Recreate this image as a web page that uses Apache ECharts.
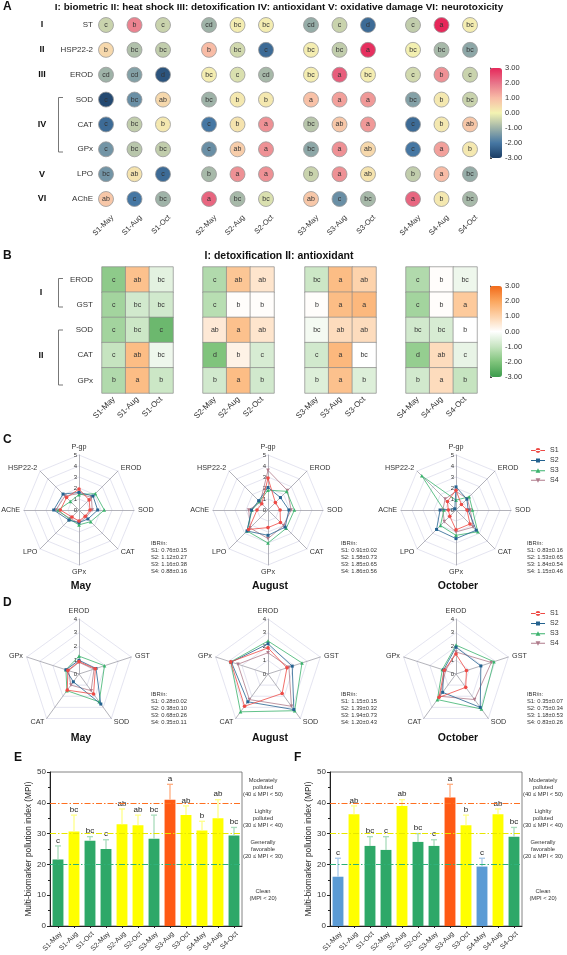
<!DOCTYPE html>
<html><head><meta charset="utf-8">
<script src="https://cdn.jsdelivr.net/npm/echarts@6/dist/echarts.min.js"></script>
<style>html,body{margin:0;padding:0;background:#fff}#c{width:567px;height:955px}</style>
</head><body><div id="c"></div>
<script>
const FONT = '"Liberation Sans", Arial, sans-serif';
// ---------- shared ----------
const sites = ['S1','S2','S3','S4'];
const months = ['May','Aug','Oct'];
// ---------- Panel A (z-scores, letters) columns: S1 May/Aug/Oct, S2..., S3..., S4...
const aRows = ['ST','HSP22-2','EROD','SOD','CAT','GPx','LPO','AChE'];
const aRoman = ['I','II','III','','IV','','V','VI'];
const aST   = [-0.5, 1.8, -0.5, -1.0, 0.1, 0.1, -1.1, -0.5, -2.2, -0.6, 3.0, 0.1];
const aHSP  = [0.5, -0.8, -0.6, 1.0, -0.4, -2.2, 0.1, -0.6, 2.9, 0.05, -0.9, -1.2];
const aEROD = [-1.0, -1.3, -2.6, 0.1, -0.3, -0.9, 0.1, 2.3, 0.1, -0.4, 1.6, -0.5];
const aSOD  = [-2.8, -1.6, 0.5, -1.0, 0.2, 0.2, 0.9, 1.4, 1.5, -1.3, 0.2, -0.5];
const aCAT  = [-2.2, -0.6, 0.2, -2.0, 0.3, 1.6, -0.7, 0.8, 1.5, -2.2, 0.2, 0.8];
const aGPx  = [-1.5, -0.7, -0.6, -1.6, 0.7, 1.6, -1.2, 1.6, 0.5, -2.0, 1.4, 0.2];
const aLPO  = [-1.5, 0.3, -2.2, -0.9, 1.6, 1.6, -0.5, 1.6, 0.3, -0.6, 1.0, -1.1];
const aAChE = [0.8, -2.0, -1.0, 2.2, -0.9, -0.3, 0.8, -1.6, -0.9, 2.2, 0.2, -0.9];
const lST   = ['c','b','c','cd','bc','bc','cd','c','d','c','a','bc'];
const lHSP  = ['b','bc','bc','b','bc','c','bc','bc','a','bc','bc','bc'];
const lEROD = ['cd','cd','d','bc','c','cd','bc','a','bc','c','b','c'];
const lSOD  = ['c','bc','ab','bc','b','b','a','a','a','bc','b','bc'];
const lCAT  = ['c','bc','b','c','b','a','bc','ab','a','c','b','ab'];
const lGPx  = ['c','bc','bc','c','ab','a','bc','a','ab','c','a','b'];
const lLPO  = ['bc','ab','c','b','a','a','b','a','ab','b','a','bc'];
const lAChE = ['ab','c','bc','a','bc','bc','ab','c','bc','a','b','bc'];
const aValueRows = [aST, aHSP, aEROD, aSOD, aCAT, aGPx, aLPO, aAChE];
const aLetterRows = [lST, lHSP, lEROD, lSOD, lCAT, lGPx, lLPO, lAChE];
// ---------- Panel B ----------
const bRows = ['EROD','GST','SOD','CAT','GPx'];
const bEROD = [-1.8, 1.4, -0.5, -1.3, 1.3, 0.6, -0.9, 1.5, 1.0, -1.3, 0.05, -0.3];
const bGST  = [-1.5, -0.8, -0.8, -1.2, 0.05, 0.05, 0.05, 1.5, 1.6, -1.5, 0.05, 1.2];
const bSOD  = [-1.5, -0.9, -2.3, 0.5, 1.4, 0.6, -0.2, 0.8, 0.8, -0.8, -0.7, 0.0];
const bCAT  = [-1.0, 1.5, -0.3, -2.0, 0.3, -0.7, -0.8, 1.6, 0.0, -1.7, 0.8, -0.4];
const bGPx  = [-1.3, 1.5, -0.9, -0.8, 1.5, -0.8, -0.6, 1.4, -0.6, -0.8, 0.8, -1.0];
const lbEROD = ['c','ab','bc','c','ab','ab','bc','a','ab','c','b','bc'];
const lbGST  = ['c','bc','bc','c','b','b','b','a','a','c','b','a'];
const lbSOD  = ['c','bc','c','ab','a','ab','bc','ab','ab','bc','bc','b'];
const lbCAT  = ['c','ab','bc','d','b','c','c','a','bc','d','ab','c'];
const lbGPx  = ['b','a','b','b','a','b','b','a','b','b','a','b'];
const bValueRows = [bEROD, bGST, bSOD, bCAT, bGPx];
const bLetterRows = [lbEROD, lbGST, lbSOD, lbCAT, lbGPx];
// ---------- Panel C (clockwise from top) ----------
const cAxes = ['P-gp','EROD','SOD','CAT','GPx','LPO','AChE','HSP22-2'];
const cMayS1 = [1.9, 1.3, 1.0, 0.8, 1.0, 0.9, 1.7, 1.6];
const cMayS2 = [1.6, 1.8, 1.7, 1.15, 1.15, 1.3, 2.3, 2.05];
const cMayS3 = [1.4, 2.1, 2.3, 1.5, 1.35, 1.2, 1.9, 1.1];
const cMayS4 = [1.5, 1.6, 1.2, 0.9, 1.2, 1.1, 2.1, 1.8];
const cAugS1 = [2.9, 0.95, 1.1, 1.6, 1.6, 2.5, 1.0, 0.8];
const cAugS2 = [2.05, 1.6, 1.9, 2.2, 2.3, 2.7, 1.5, 1.2];
const cAugS3 = [1.8, 2.4, 2.4, 2.35, 3.0, 2.7, 1.45, 1.1];
const cAugS4 = [3.6, 2.5, 2.1, 2.0, 2.6, 2.3, 1.75, 1.0];
const cOctS1 = [1.8, 0.7, 1.0, 1.8, 1.8, 0.8, 0.7, 1.1];
const cOctS2 = [2.1, 1.4, 1.1, 2.6, 2.6, 2.5, 1.45, 0.15];
const cOctS3 = [0.9, 1.7, 1.5, 2.8, 2.3, 2.0, 1.1, 4.4];
const cOctS4 = [1.7, 1.45, 1.3, 2.2, 2.0, 1.5, 1.2, 1.4];
const cIBR_May = ['0.76±0.15','1.12±0.27','1.16±0.38','0.88±0.16'];
const cIBR_Aug = ['0.91±0.02','1.58±0.73','1.85±0.65','1.86±0.56'];
const cIBR_Oct = ['0.83±0.16','1.53±0.65','1.84±0.54','1.15±0.46'];
// ---------- Panel D (clockwise from top) ----------
const dAxes = ['EROD','GST','SOD','CAT','GPx'];
const dMayS1 = [0.9, 1.25, 1.8, 1.45, 0.85];
const dMayS2 = [1.0, 1.3, 2.7, 0.7, 1.0];
const dMayS3 = [1.3, 1.95, 2.5, 1.5, 1.0];
const dMayS4 = [0.85, 1.15, 1.5, 1.0, 0.8];
const dAugS1 = [1.9, 1.45, 1.75, 2.9, 2.85];
const dAugS2 = [2.2, 1.85, 3.2, 2.5, 2.8];
const dAugS3 = [2.4, 2.6, 3.3, 3.4, 2.85];
const dAugS4 = [1.55, 1.6, 2.9, 2.3, 2.3];
const dOctS1 = [1.45, 0.8, 1.2, 2.1, 0.9];
const dOctS2 = [1.95, 1.9, 3.0, 1.65, 0.95];
const dOctS3 = [2.1, 2.9, 3.15, 2.3, 1.05];
const dOctS4 = [1.6, 2.7, 2.3, 2.0, 0.8];
const dIBR_May = ['0.28±0.02','0.38±0.10','0.68±0.26','0.35±0.11'];
const dIBR_Aug = ['1.15±0.15','1.39±0.32','1.94±0.73','1.20±0.43'];
const dIBR_Oct = ['0.35±0.07','0.75±0.34','1.18±0.53','0.83±0.26'];
const monthTitles = ['May','August','October'];
// ---------- Panels E, F ----------
const mpiCats = ['S1-May','S1-Aug','S1-Oct','S2-May','S2-Aug','S2-Oct','S3-May','S3-Aug','S3-Oct','S4-May','S4-Aug','S4-Oct'];
const eMPI = [21.6, 30.7, 27.7, 25.0, 33.0, 32.7, 28.3, 41.0, 36.0, 31.0, 35.0, 29.4];
const eSD  = [4.4, 5.3, 1.3, 3.0, 5.0, 3.3, 7.7, 5.0, 3.0, 3.0, 6.0, 2.6];
const eLet = ['c','bc','bc','c','ab','ab','bc','a','ab','b','ab','bc'];
const fMPI = [16.0, 36.3, 26.0, 24.7, 39.0, 27.3, 26.0, 41.7, 32.7, 19.3, 36.3, 29.0];
const fSD  = [6.0, 2.7, 3.0, 4.3, 2.0, 2.7, 2.0, 4.3, 3.3, 2.7, 1.7, 3.0];
const fLet = ['c','ab','bc','c','ab','bc','c','a','b','c','ab','bc'];
const mpiThresholds = [20, 30, 40];
const mpiBands = [
  [40, 50, 'Moderately\npolluted\n(40 ≤ MPI < 50)'],
  [30, 40, 'Lighlty\npolluted\n(30 ≤ MPI < 40)'],
  [20, 30, 'Generally\nfavorable\n(20 ≤ MPI < 30)'],
  [0, 20, 'Clean\n(MPI < 20)']
];

// ================= build =================
const TXT = '#333';
const grids = [], xAxes = [], yAxes = [], series = [];
const addGrid = g => { grids.push(g); return grids.length - 1; };

// ---- Panel A
const aLeft = [106, 209, 311, 413];
const aSeriesIdx = [];
sites.forEach((s, si) => {
  const gi = addGrid({left: aLeft[si], top: 25, width: 57, height: 174});
  xAxes.push({type:'category', gridIndex: gi, data: months.map(m => s + '-' + m), boundaryGap:false,
    axisLine:{show:false}, axisTick:{show:false}, splitLine:{show:false},
    axisLabel:{rotate:45, fontSize:7.5, color:TXT, margin:11, verticalAlign:'top', lineHeight:18, interval:0}});
  const xi = xAxes.length - 1;
  yAxes.push({type:'category', gridIndex: gi, data: aRows, inverse:true, boundaryGap:false,
    axisLine:{show:false}, axisTick:{show:false}, splitLine:{show:false},
    axisLabel:{show: si === 0, fontSize:8, color:TXT, margin:13, interval:0}});
  const yi = yAxes.length - 1;
  if (si === 0) {
    yAxes.push({type:'category', gridIndex: gi, data: aRows, inverse:true, boundaryGap:false, position:'left',
      axisLine:{show:false}, axisTick:{show:false}, splitLine:{show:false},
      axisLabel:{fontSize:9, fontWeight:'bold', color:'#111', margin:64, align:'center', interval:0,
        formatter:(v, i) => aRoman[i]}});
  }
  const data = [];
  aValueRows.forEach((row, r) => { for (let c = 0; c < 3; c++) data.push([c, r, row[si*3 + c]]); });
  aSeriesIdx.push(series.length);
  series.push({type:'scatter', xAxisIndex: xi, yAxisIndex: yi, symbolSize: 15, z: 5,
    itemStyle:{borderColor:'#9a9a9a', borderWidth:0.8, opacity:1},
    label:{show:true, position:'inside', fontSize:7, color:TXT, formatter: p => aLetterRows[p.value[1]][si*3 + p.value[0]]},
    data});
});
// A colorbar axis
{
  const gi = addGrid({left:490, top:68, width:12, height:90});
  xAxes.push({type:'value', gridIndex: gi, show:false});
  yAxes.push({type:'value', gridIndex: gi, min:-3, max:3, interval:1, position:'right',
    axisLine:{show:true, lineStyle:{color:'#444', width:0.8}}, axisTick:{show:true, length:2, lineStyle:{color:'#444'}},
    splitLine:{show:false}, axisLabel:{fontSize:7.5, color:TXT, margin:3, formatter: v => v.toFixed(2)}});
}
// ---- Panel B
const bLeft = [102, 203, 305, 406];
const bSeriesIdx = [];
sites.forEach((s, si) => {
  const gi = addGrid({left: bLeft[si], top: 267, width: 71, height: 126});
  xAxes.push({type:'category', gridIndex: gi, data: months.map(m => s + '-' + m),
    axisLine:{show:false}, axisTick:{show:false}, splitLine:{show:false},
    axisLabel:{rotate:45, fontSize:8, color:TXT, margin:5, interval:0}});
  const xi = xAxes.length - 1;
  yAxes.push({type:'category', gridIndex: gi, data: bRows, inverse:true,
    axisLine:{show:false}, axisTick:{show:false}, splitLine:{show:false},
    axisLabel:{show: si === 0, fontSize:8, color:TXT, margin:9, interval:0}});
  const yi = yAxes.length - 1;
  const data = [];
  bValueRows.forEach((row, r) => { for (let c = 0; c < 3; c++) data.push([c, r, row[si*3 + c]]); });
  bSeriesIdx.push(series.length);
  series.push({type:'heatmap', xAxisIndex: xi, yAxisIndex: yi,
    itemStyle:{borderColor:'#8a8a8a', borderWidth:0.7},
    label:{show:true, fontSize:7, color:TXT, formatter: p => bLetterRows[p.value[1]][si*3 + p.value[0]]},
    emphasis:{disabled:true}, data});
});
{
  const gi = addGrid({left:490, top:286, width:12, height:91});
  xAxes.push({type:'value', gridIndex: gi, show:false});
  yAxes.push({type:'value', gridIndex: gi, min:-3, max:3, interval:1, position:'right',
    axisLine:{show:true, lineStyle:{color:'#444', width:0.8}}, axisTick:{show:true, length:2, lineStyle:{color:'#444'}},
    splitLine:{show:false}, axisLabel:{fontSize:7.5, color:TXT, margin:3, formatter: v => v.toFixed(2)}});
}

// ---- Radars C, D
const siteColors = ['#ee4a45', '#24628f', '#3bb36d', '#b07c8c'];
const siteSymbols = ['circle', 'rect', 'triangle', 'path://M0,0L10,0L5,9Z'];
const legendIcons = [
  'path://M0,4.5h14v1h-14z M7,2.6a2.4,2.4 0 1,0 0.01,0z',
  'path://M0,4.5h14v1h-14z M5,3h4v4h-4z',
  'path://M0,4.5h14v1h-14z M7,2.5l2.4,4.3h-4.8z',
  'path://M0,4.5h14v1h-14z M4.6,3h4.8l-2.4,4.3z'
];
const radars = [];
const cCW2CCW = [0,7,6,5,4,3,2,1];
const dCW2CCW = [0,4,3,2,1];
const radarCenters = [79, 268, 456];
function makeRadar(axes, order, max, cx, cy, r) {
  return {center:[cx, cy], radius: r, shape:'polygon', startAngle: 90, splitNumber: max,
    axisName:{color:TXT, fontSize:7.2, fontFamily: FONT}, nameGap: 4,
    splitLine:{lineStyle:{color:'#d9d9ea', width:0.7}}, splitArea:{show:false},
    axisLine:{lineStyle:{color:'#a0a0a8', width:0.8}},
    axisLabel:{show:false, fontSize:6, color:TXT},
    indicator: order.map((k, i) => {
      const ind = {name: axes[k], min: 0, max: max};
      if (i === 0) ind.axisLabel = {show:true, fontSize:6, color:TXT, margin:2};
      return ind;
    })};
}
const cData = [[cMayS1,cMayS2,cMayS3,cMayS4],[cAugS1,cAugS2,cAugS3,cAugS4],[cOctS1,cOctS2,cOctS3,cOctS4]];
const dData = [[dMayS1,dMayS2,dMayS3,dMayS4],[dAugS1,dAugS2,dAugS3,dAugS4],[dOctS1,dOctS2,dOctS3,dOctS4]];
radarCenters.forEach(cx => radars.push(makeRadar(cAxes, cCW2CCW, 5, cx, 510, 55)));
radarCenters.forEach(cx => radars.push(makeRadar(dAxes, dCW2CCW, 4, cx, 674, 55)));
function addRadarSeries(dataSet, order, radarOffset) {
  dataSet.forEach((month, mi) => {
    month.forEach((vals, si) => {
      series.push({type:'radar', radarIndex: radarOffset + mi, name: sites[si],
        symbol: siteSymbols[si], symbolSize: si === 1 ? 3 : 3.6, silent:true, z: 4 - si,
        lineStyle:{color: siteColors[si], width:0.8}, itemStyle:{color: siteColors[si]},
        data:[{name: sites[si], value: order.map(k => vals[k])}]});
    });
  });
}
addRadarSeries(cData, cCW2CCW, 0);
addRadarSeries(dData, dCW2CCW, 3);

// ---- Panels E, F
const mpiColor = v => v < mpiThresholds[0] ? '#5b9bd5' : v < mpiThresholds[1] ? '#2ea868' : v < mpiThresholds[2] ? '#ffff00' : '#ff5a14';
const mpiErrColor = v => v < mpiThresholds[0] ? '#a9c9ea' : v < mpiThresholds[1] ? '#a9dcbc' : v < mpiThresholds[2] ? '#ffff8a' : '#ffad80';
const lineCols = ['#2fb07a', '#e6e600', '#ff7020'];
function addMPI(left, vals, sds, lets) {
  const gi = addGrid({left, top:772, width:192, height:154, show:true, borderColor:'#666', borderWidth:0.8});
  xAxes.push({type:'category', gridIndex: gi, data: mpiCats,
    axisLine:{lineStyle:{color:'#222', width:1}}, axisTick:{show:true, alignWithLabel:true, length:2, lineStyle:{color:'#222'}},
    axisLabel:{rotate:45, fontSize:7, color:TXT, margin:4, interval:0, verticalAlign:'top', lineHeight:8}});
  const xi = xAxes.length - 1;
  yAxes.push({type:'value', gridIndex: gi, min:0, max:50, interval:10,
    name:'Multi-biomarker pollution index (MPI)', nameLocation:'middle', nameGap:15,
    nameTextStyle:{fontSize:8.3, color:'#222'},
    axisLine:{show:true, lineStyle:{color:'#222', width:1}}, axisTick:{show:true, length:3, lineStyle:{color:'#222'}},
    minorTick:{show:true, splitNumber:2, length:2, lineStyle:{color:'#222'}},
    splitLine:{show:false}, axisLabel:{fontSize:8, color:TXT, margin:4}});
  const yi = yAxes.length - 1;
  series.push({type:'bar', xAxisIndex: xi, yAxisIndex: yi, barWidth:'68%', silent:true,
    data: vals.map(v => ({value: v, itemStyle:{color: mpiColor(v)}})),
    markArea:{silent:true, itemStyle:{color:'rgba(0,0,0,0)'},
      label:{show:true, position:'right', distance:21, align:'center', fontSize:5.8, lineHeight:7, color:TXT},
      data: mpiBands.map(b => [{yAxis: b[0], name: b[2]}, {yAxis: b[1]}])}
  });
  mpiThresholds.forEach((t, i) => {
    series.push({type:'line', xAxisIndex: xi, yAxisIndex: yi, data: [], silent:true, color: lineCols[i],
      markLine:{silent:true, symbol:'none', label:{show:false}, animation:false,
        lineStyle:{color: lineCols[i], type:[6,2,1.5,2], width:1.2, opacity:1},
        data:[{yAxis: t}]}});
  });
  series.push({type:'custom', xAxisIndex: xi, yAxisIndex: yi, silent:true, z: 4,
    data: vals.map((v, i) => [i, v, v + sds[i]]),
    renderItem: (params, api) => {
      const x = api.value(0), v = api.value(1), top = api.value(2);
      const p0 = api.coord([x, v]), p1 = api.coord([x, top]);
      const col = mpiErrColor(v);
      return {type:'group', children:[
        {type:'line', shape:{x1:p0[0], y1:p0[1], x2:p1[0], y2:p1[1]}, style:{stroke: col, lineWidth:1.3}},
        {type:'line', shape:{x1:p1[0]-3, y1:p1[1], x2:p1[0]+3, y2:p1[1]}, style:{stroke: col, lineWidth:1.3}},
        {type:'text', x:p1[0], y:p1[1]-1.5, style:{text: lets[params.dataIndex], align:'center', verticalAlign:'bottom', fontSize:8, fill:'#222', fontFamily: FONT}}
      ]};
    }});
}
addMPI(50, eMPI, eSD, eLet);
addMPI(330, fMPI, fSD, fLet);

// ---- graphics (panel letters, titles, texts, brackets)
const g = [];
const txt = (x, y, text, o = {}) => g.push({type:'text', x, y, silent:true, style: Object.assign({text, fontSize:8, fill:TXT, fontFamily: FONT, align:'left', verticalAlign:'middle'}, o)});
const bold = {fontWeight:'bold', fill:'#111'};
txt(3, 7, 'A', Object.assign({fontSize:12}, bold));
txt(279, 7, 'I: biometric II: heat shock III: detoxification IV: antioxidant V: oxidative damage VI: neurotoxicity', Object.assign({fontSize:9.9, align:'center'}, bold));
txt(3, 256, 'B', Object.assign({fontSize:12}, bold));
txt(279, 256, 'I: detoxification II: antioxidant', Object.assign({fontSize:10.5, align:'center'}, bold));
txt(41, 293, 'I', Object.assign({fontSize:9, align:'center'}, bold));
txt(41, 356, 'II', Object.assign({fontSize:9, align:'center'}, bold));
txt(3, 440, 'C', Object.assign({fontSize:12}, bold));
txt(3, 603, 'D', Object.assign({fontSize:12}, bold));
txt(14, 758, 'E', Object.assign({fontSize:12}, bold));
txt(294, 758, 'F', Object.assign({fontSize:12}, bold));
const bracket = (x, y1, y2) => g.push({type:'polyline', silent:true, shape:{points:[[x+4.5,y1],[x,y1],[x,y2],[x+4.5,y2]]}, style:{stroke:'#777', lineWidth:1, fill:null}});
bracket(58.5, 97.5, 152);
bracket(58.5, 278.5, 307);
bracket(58.5, 330, 385);
const ibrX = [151, 341, 527];
[cIBR_May, cIBR_Aug, cIBR_Oct].forEach((arr, i) => {
  txt(ibrX[i], 540, ['IBR/n:'].concat(arr.map((t, k) => sites[k] + ': ' + t)).join('\n'), {fontSize:5.8, lineHeight:7, verticalAlign:'top'});
  txt(radarCenters[i] + 2, 586, monthTitles[i], Object.assign({fontSize:10.5, align:'center'}, bold));
});
[dIBR_May, dIBR_Aug, dIBR_Oct].forEach((arr, i) => {
  txt(ibrX[i], 691, ['IBR/n:'].concat(arr.map((t, k) => sites[k] + ': ' + t)).join('\n'), {fontSize:5.8, lineHeight:7, verticalAlign:'top'});
  txt(radarCenters[i] + 2, 738, monthTitles[i], Object.assign({fontSize:10.5, align:'center'}, bold));
});

const legendBase = {orient:'vertical', left:531, itemWidth:14, itemHeight:5, itemGap:3, selectedMode:false,
  textStyle:{fontSize:7, color:TXT}, padding:0, data: sites.map((s, i) => ({name: s, icon: legendIcons[i]}))};

const option = {
  animation:false,
  textStyle:{fontFamily: FONT},
  grid: grids, xAxis: xAxes, yAxis: yAxes, radar: radars,
  visualMap:[
    {type:'continuous', min:-3, max:3, seriesIndex: aSeriesIdx, dimension:2, calculable:false, hoverLink:false,
     left:490, top:68, itemWidth:12, itemHeight:90, padding:0, text:null, showLabel:false,
     inRange:{color:['#1b3d64','#4677a3','#9fb3a8','#f3f3b2','#f8bca6','#e8758a','#e6285a']}},
    {type:'continuous', min:-3, max:3, seriesIndex: bSeriesIdx, dimension:2, calculable:false, hoverLink:false,
     left:490, top:286, itemWidth:12, itemHeight:91, padding:0, text:null, showLabel:false,
     inRange:{color:['#3c9c4c','#80c47c','#c6e4c0','#ffffff','#fdd3ac','#fba65e','#f26a1a']}}
  ],
  legend:[Object.assign({top:447}, legendBase), Object.assign({top:610}, legendBase)],
  graphic: g,
  series
};
const chart = echarts.init(document.getElementById('c'), null, {renderer:'canvas'});
chart.setOption(option);
</script></body></html>
